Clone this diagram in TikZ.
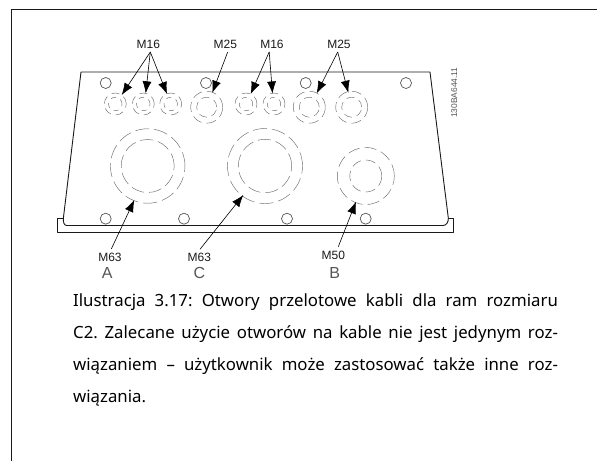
\documentclass[tikz,border=0pt]{standalone}
\usepackage{fontspec}
\setmainfont{Noto Sans}
\newfontfamily\labelfont{Liberation Sans}
\usetikzlibrary{arrows.meta}
\definecolor{ink}{HTML}{1A1A1A}
\definecolor{dash}{HTML}{555555}
\definecolor{dashline}{HTML}{6A6A6A}
\tikzset{
  x=1pt,y=-1pt,
  plate/.style={draw=ink,line width=0.9pt,line join=round},
  frameline/.style={draw=ink,line width=1.1pt},
  mount/.style={circle,draw=dash,line width=0.7pt,inner sep=0pt,minimum size=11pt},
  hole/.style={circle,draw=dashline,line width=0.45pt,inner sep=0pt,dash pattern=on #1pt off 5pt},
  hole/.default=6,
  lbl/.style={font=\labelfont\fontsize{12}{12}\selectfont,text=ink,inner sep=0pt},
  lettr/.style={font=\labelfont\fontsize{16}{16}\selectfont,text=dash,inner sep=0pt},
  pointer/.style={draw=black,line width=0.6pt,-{Latex[length=12pt,width=9pt]}},
}
\begin{document}
\begin{tikzpicture}
\useasboundingbox (0,0) rectangle (597,461);
\draw[frameline] (11.5,461) -- (11.5,9.5) -- (597,9.5);
% plate
\draw[plate] (81,72) -- (430,72) -- (448.3,218) .. controls (448.6,222) and (446.5,225.5) .. (443,225.5)
  -- (66.7,225.5) .. controls (64,225.5) and (63,222) .. (63.4,218) -- cycle;
\draw[plate] (63.4,218.3) -- (57.7,218.3) -- (57.7,232) -- (453,232) -- (453,218.3) -- (448.3,218.3);
% mounting holes
\node[mount] (t1) at (105.7,83) {};
\node[mount] (t2) at (206,83) {};
\node[mount] (t3) at (305.7,83) {};
\node[mount] (t4) at (406,83) {};
\node[mount] (b1) at (105.7,218.7) {};
\node[mount] (b2) at (184,218.7) {};
\node[mount] (b3) at (287,218.7) {};
\node[mount] (b4) at (365.7,218.7) {};
% M16
\foreach \n/\cx in {a/115.3,b/143.3,c/170.7,d/246,e/274}{
  \node[hole=8,minimum size=22pt] (s\n o) at (\cx,104) {};
  \node[hole=5,minimum size=13.5pt] (s\n i) at (\cx,104) {};
}
% M25
\foreach \n/\cx in {a/206.7,b/309.3,c/351.7}{
  \node[hole=10,minimum size=32pt] (m\n o) at (\cx,107.2) {};
  \node[hole=8,minimum size=20pt] (m\n i) at (\cx,107.2) {};
}
% large
\node[hole=14,minimum size=74.5pt] (ao) at (147.7,166) {};
\node[hole=13,minimum size=53pt] (ai) at (147.7,166) {};
\node[hole=14,minimum size=75pt] (co) at (265,166) {};
\node[hole=13,minimum size=53.4pt] (ci) at (265,166) {};
\node[hole=12,minimum size=57pt] (bo) at (365.8,176) {};
\node[hole=10,minimum size=32pt] (bi) at (365.8,176) {};
% labels
\node[lbl] (l1) at (148.3,44) {M16};
\node[lbl] (l2) at (225.3,44) {M25};
\node[lbl] (l3) at (272,44) {M16};
\node[lbl] (l4) at (339,44) {M25};
\node[lbl] (l5) at (110,257) {M63};
\node[lbl] (l6) at (199.3,257) {M63};
\node[lbl] (l7) at (333.3,255.5) {M50};
\node[lettr] (A) at (107.3,273) {A};
\node[lettr] (C) at (199.3,273) {C};
\node[lettr] (B) at (334.7,272.5) {B};
\node[font=\labelfont\fontsize{8.4}{8.4}\selectfont,text=dash,inner sep=0pt,rotate=90] (code) at (454.3,92.7) {130BA644.11};
% pointers
\coordinate (n1) at (150.3,52);
\coordinate (n2) at (227.7,52);
\coordinate (n3) at (269.2,52);
\coordinate (n4) at (337.7,52);
\coordinate (n5) at (111.3,249);
\coordinate (n6) at (200,249.3);
\coordinate (n7) at (338.3,246.7);
\coordinate (p1) at (121.7,95);
\coordinate (p2) at (145.7,93.3);
\coordinate (p3) at (167,94);
\coordinate (p4) at (212.3,92.7);
\coordinate (p5) at (250.7,94);
\coordinate (p6) at (272.5,93.5);
\coordinate (p7) at (316.7,93.3);
\coordinate (p8) at (348.3,92.7);
\coordinate (p9) at (134.3,200);
\coordinate (p10) at (243.3,195);
\coordinate (p11) at (356,201.7);
\draw[pointer] (n1) -- (p1);
\draw[pointer] (n1) -- (p2);
\draw[pointer] (n1) -- (p3);
\draw[pointer] (n2) -- (p4);
\draw[pointer] (n3) -- (p5);
\draw[pointer] (n3) -- (p6);
\draw[pointer] (n4) -- (p7);
\draw[pointer] (n4) -- (p8);
\draw[pointer] (n5) -- (p9);
\draw[pointer] (n6) -- (p10);
\draw[pointer] (n7) -- (p11);
% caption
\node[anchor=base west,inner sep=0pt,text width=484.7pt,align=justify,text=black,
      font=\fontsize{16.8}{32}\selectfont] (cap) at (73,306.7)
 {\frenchspacing\hyphenpenalty=10000 \emergencystretch=20pt Ilustracja 3.17: Otwory przelotowe kabli dla ram rozmiaru\linebreak
  C2. Zalecane użycie otworów na kable nie jest jedynym roz-\linebreak
  wiązaniem – użytkownik może zastosować także inne roz-\linebreak
  wiązania.};
\end{tikzpicture}
\end{document}
